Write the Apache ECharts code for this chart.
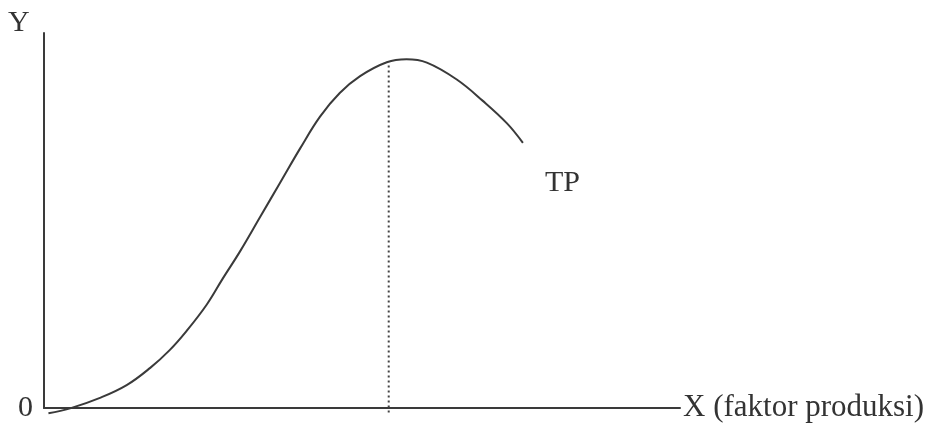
<!DOCTYPE html>
<html>
<head>
<meta charset="utf-8">
<script src="https://cdn.jsdelivr.net/npm/echarts@6/dist/echarts.min.js"></script>
<style>
html,body{margin:0;padding:0;background:#fff;}
#chart{width:939px;height:425px;}
</style>
</head>
<body>
<div id="chart"></div>
<script>
// Total product (TP) curve (x: factor input, y: output)
const tpX = [0.7, 4.1, 8.8, 13.0, 16.7, 19.8, 22.4, 25.6, 28.1, 30.8, 34.0, 37.1, 40.3, 43.4, 46.5, 49.7, 53.9, 57.0, 60.2, 64.9, 69.0, 72.8, 75.3];
const tpY = [-1.4, -0.1, 2.7, 6.1, 10.7, 15.5, 20.5, 27.6, 34.5, 41.7, 51.0, 60.0, 69.3, 77.7, 84.0, 88.5, 92.2, 93.0, 92.1, 87.6, 81.9, 75.9, 70.7];
// Dotted guide line
const guideX = [54.2, 54.2];
const guideY = [-1.2, 92.0];
const xAxisName = 'X (faktor produksi)';
const yAxisName = 'Y';
const originLabel = '0';
const curveLabel = 'TP';

const chart = echarts.init(document.getElementById('chart'), null, {renderer: 'canvas'});
const serif = '"Liberation Serif", "DejaVu Serif", serif';
const ink = '#333333';

chart.setOption({
  animation: false,
  backgroundColor: '#ffffff',
  grid: {left: 44, right: 259, top: 33, bottom: 17},
  xAxis: {
    type: 'value', min: 0, max: 100,
    name: xAxisName, nameLocation: 'end', nameGap: 3,
    nameTextStyle: {fontFamily: serif, fontSize: 31, color: ink, verticalAlign: 'middle', padding: [0, 0, 10, 0]},
    axisLine: {show: true, onZero: false, lineStyle: {color: '#3a3a3a', width: 2}},
    axisTick: {show: false}, axisLabel: {show: false}, splitLine: {show: false}
  },
  yAxis: {
    type: 'value', min: 0, max: 100, interval: 100,
    axisLine: {show: true, onZero: false, lineStyle: {color: '#3a3a3a', width: 2}},
    axisTick: {show: false}, splitLine: {show: false},
    axisLabel: {show: true, margin: 11, fontFamily: serif, fontSize: 30, color: ink,
      formatter: v => v === 0 ? originLabel : ''}
  },
  graphic: [
    {type: 'text', left: 8, top: 8, style: {text: yAxisName, font: '30px ' + serif, fill: ink}},
    {type: 'text', left: 545, top: 168, style: {text: curveLabel, font: '30px ' + serif, fill: ink}}
  ],
  series: [
    {
      type: 'line', smooth: 0.4, symbol: 'none', clip: false,
      data: tpX.map((x, i) => [x, tpY[i]]),
      lineStyle: {color: '#3a3a3a', width: 2}
    },
    {
      type: 'line', symbol: 'none', clip: false,
      data: guideX.map((x, i) => [x, guideY[i]]),
      lineStyle: {color: '#444444', width: 2, type: [2, 3]}
    }
  ]
});
</script>
</body>
</html>
